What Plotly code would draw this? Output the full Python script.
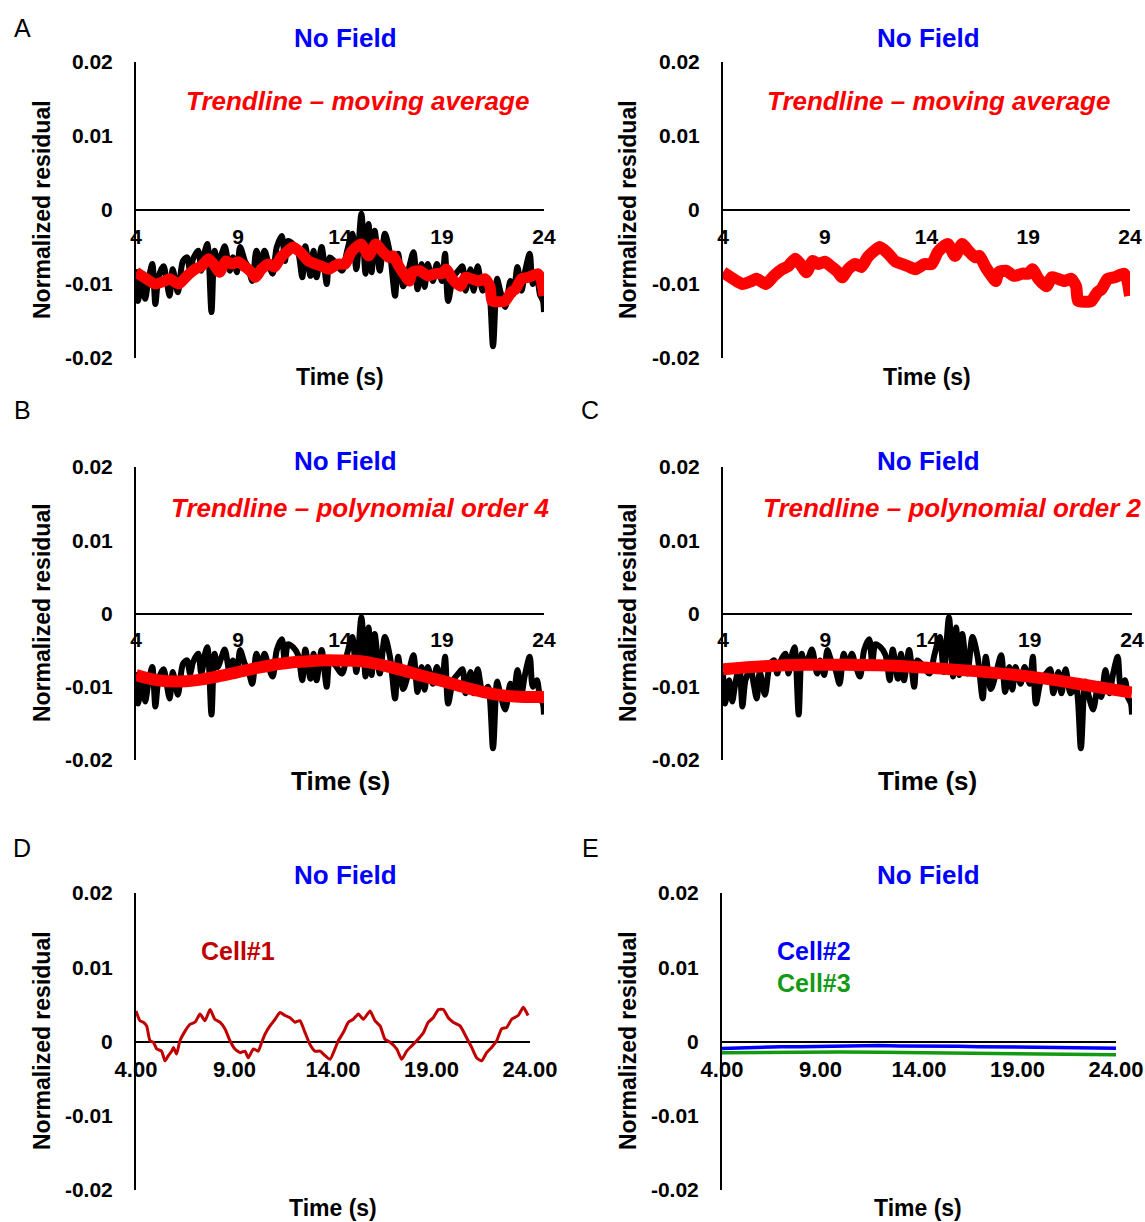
import plotly.graph_objects as go

W, H = 1145, 1222
FONT = "Liberation Sans, Arial, sans-serif"

# ---------------- data ----------------
time_tick_vals = [4, 9, 14, 19, 24]
time_tick_text_int = ["4", "9", "14", "19", "24"]
time_tick_text_dec = ["4.00", "9.00", "14.00", "19.00", "24.00"]
resid_tick_vals = [-0.02, -0.01, 0, 0.01, 0.02]
resid_tick_text = ["-0.02", "-0.01", "0", "0.01", "0.02"]

# raw normalized residual (units of 1e-3)
raw_t = [4.0, 4.1, 4.3, 4.45, 4.6, 4.8, 4.95, 5.1, 5.35, 5.5,
         5.65, 5.8, 6.05, 6.3, 6.5, 6.65, 6.8, 7.05, 7.2, 7.4,
         7.5, 7.7, 7.85, 8.0, 8.2, 8.35, 8.6, 8.75, 8.95, 9.1,
         9.35, 9.5, 9.7, 9.9, 10.1, 10.3, 10.5, 10.7, 10.9, 11.15,
         11.3, 11.45, 11.7, 11.95, 12.15, 12.3, 12.55, 12.7, 12.85, 13.1,
         13.35, 13.5, 13.75, 14.1, 14.35, 14.6, 14.8, 15.05, 15.25, 15.4,
         15.55, 15.7, 15.95, 16.2, 16.45, 16.7, 16.85, 17.1, 17.35, 17.6,
         17.8, 18.0, 18.15, 18.3, 18.55, 18.75, 19.0, 19.15, 19.3, 19.55,
         19.8, 20.0, 20.15, 20.4, 20.55, 20.75, 21.0, 21.25, 21.5, 21.7,
         21.85, 22.1, 22.35, 22.5, 22.7, 22.9, 23.05, 23.3, 23.45, 23.65,
         23.8, 23.95, 24.0]
raw_milli = [-8.0, -12.3, -9.1, -12.0, -9.6, -7.3, -12.7, -9.1, -7.6, -9.6,
             -11.6, -8.0, -11.1, -6.9, -6.4, -8.2, -6.6, -5.5, -8.2, -5.3,
             -4.6, -13.8, -5.5, -7.3, -5.9, -4.9, -8.2, -6.4, -8.4, -5.0,
             -7.0, -7.7, -9.6, -5.5, -7.3, -5.5, -7.3, -8.6, -5.0, -3.5,
             -6.9, -4.2, -4.6, -5.7, -9.1, -4.9, -8.9, -5.5, -9.1, -5.0,
             -10.0, -6.4, -7.0, -8.2, -5.5, -3.2, -8.0, -0.5, -8.6, -1.9,
             -8.4, -2.8, -8.2, -3.2, -5.9, -11.6, -5.9, -10.3, -8.2, -5.7,
             -10.7, -7.3, -10.4, -7.3, -9.6, -7.3, -9.6, -5.9, -12.3, -9.1,
             -8.2, -7.6, -10.9, -8.0, -10.9, -7.6, -10.9, -10.0, -18.4, -9.3,
             -10.9, -13.1, -9.6, -11.4, -7.7, -10.9, -8.6, -5.9, -10.0, -9.1,
             -11.4, -12.3, -13.8]

# moving-average trendline (units of 1e-3)
ma_t = [4.0, 4.5, 4.95, 5.4, 5.65, 6.1, 6.5, 6.9, 7.2, 7.55,
        7.8, 8.1, 8.4, 8.7, 9.0, 9.35, 9.65, 9.85, 10.15, 10.5,
        10.8, 11.1, 11.45, 11.7, 12.05, 12.45, 12.8, 13.1, 13.45, 13.9,
        14.25, 14.55, 14.8, 15.05, 15.4, 15.75, 16.05, 16.4, 16.6, 16.9,
        17.25, 17.4, 17.55, 17.9, 18.3, 18.7, 19.0, 19.2, 19.5, 19.9,
        20.15, 20.45, 20.8, 21.1, 21.35, 21.45, 21.8, 22.1, 22.4, 22.6,
        22.9, 23.25, 23.7, 23.85, 24.0]
ma_milli = [-8.4, -9.3, -10.0, -9.6, -9.3, -10.0, -8.9, -8.0, -7.6, -6.6,
            -7.3, -8.4, -6.9, -7.3, -7.0, -7.7, -8.4, -9.1, -8.0, -7.3,
            -7.7, -6.4, -5.5, -5.0, -5.7, -6.9, -7.3, -7.6, -8.0, -7.3,
            -7.3, -5.7, -5.0, -4.6, -6.2, -4.6, -5.5, -6.4, -6.2, -7.7,
            -9.1, -9.6, -8.4, -8.2, -8.9, -8.6, -8.6, -8.0, -9.3, -10.3,
            -9.1, -9.3, -9.6, -9.3, -10.3, -12.3, -12.4, -12.3, -11.1, -10.7,
            -9.3, -9.1, -8.6, -9.3, -11.6]

# polynomial order 4 trendline (units of 1e-3)
poly4_t = [4, 5, 6, 7, 8, 9, 10, 11, 12, 13, 14, 15, 16, 17, 18, 19, 20, 21, 22, 23, 24]
poly4_milli = [-8.4, -9.1, -9.3, -9.1, -8.6, -8.0, -7.4, -6.9, -6.6, -6.4, -6.4,
               -6.5, -7.0, -7.7, -8.5, -9.2, -10.0, -10.7, -11.2, -11.4, -11.4]

# polynomial order 2 trendline (units of 1e-3)
poly2_t = [4, 6, 8, 10, 12, 14, 16, 18, 20, 22, 24]
poly2_milli = [-7.6, -7.2, -7.0, -7.0, -7.1, -7.4, -7.8, -8.3, -9.0, -9.9, -10.8]

# Cell#1 (units of 1e-3)
cell1_t = [4.0, 4.2, 4.37, 4.54, 4.71, 4.88, 5.05, 5.3, 5.47, 5.64,
           5.81, 5.9, 6.06, 6.23, 6.49, 6.74, 7.0, 7.25, 7.5, 7.76,
           8.0, 8.26, 8.52, 8.77, 9.02, 9.28, 9.53, 9.7, 9.96, 10.2,
           10.38, 10.55, 10.8, 11.06, 11.31, 11.56, 11.82, 12.07, 12.32, 12.58,
           12.83, 13.09, 13.34, 13.6, 13.85, 14.1, 14.27, 14.52, 14.78, 15.03,
           15.29, 15.54, 15.88, 16.13, 16.39, 16.64, 16.9, 17.23, 17.49, 17.74,
           17.99, 18.25, 18.59, 18.84, 19.09, 19.35, 19.6, 19.85, 20.1, 20.45,
           20.78, 21.04, 21.29, 21.55, 21.8, 22.05, 22.31, 22.56, 22.82, 23.07,
           23.4, 23.66, 23.9]
cell1_milli = [4.1, 2.8, 2.6, 2.1, 0.1, -0.1, -1.0, -1.3, -2.6, -1.9,
               -1.3, -0.8, -1.7, 0.1, 1.4, 2.3, 2.6, 3.7, 2.8, 4.3,
               3.0, 2.6, 1.7, 0.1, -1.0, -1.5, -1.3, -2.2, -1.0, -1.3,
               -0.1, 1.0, 2.1, 3.0, 3.9, 3.5, 3.2, 2.6, 2.8, 1.2,
               -0.4, -1.3, -1.3, -1.9, -2.4, -1.0, 0.1, 1.2, 2.6, 3.0,
               3.7, 3.0, 4.1, 2.8, 2.1, 0.3, -0.1, -1.0, -2.4, -1.3,
               -0.6, 0.1, 1.2, 2.6, 3.2, 4.3, 4.3, 3.2, 2.6, 2.1,
               0.5, -0.8, -2.2, -2.6, -1.5, -0.8, 0.1, 1.7, 1.9, 3.0,
               3.5, 4.6, 3.5]

# Cell#2 and Cell#3 (units of 1e-3)
cell2_t = [4, 5, 6, 7, 8, 9, 10, 11, 12, 13, 14, 15, 16, 17, 18, 19, 20, 21, 22, 23, 24]
cell2_milli = [-0.95, -0.85, -0.8, -0.7, -0.7, -0.65, -0.6, -0.6, -0.55, -0.6, -0.6,
               -0.55, -0.65, -0.7, -0.7, -0.75, -0.75, -0.8, -0.85, -0.85, -0.9]
cell3_t = [4, 6, 8, 10, 12, 14, 16, 18, 20, 22, 24]
cell3_milli = [-1.5, -1.45, -1.4, -1.4, -1.45, -1.5, -1.6, -1.65, -1.7, -1.75, -1.8]


def si(vals):
    return [v / 1000.0 for v in vals]


# ---------------- layout geometry (pixels) ----------------
# (left, right, top, bottom) of each plot area
boxes = [
    (136, 544, 62, 358),    # A left
    (723, 1130, 62, 358),   # A right
    (136, 544, 467, 760),   # B
    (723, 1132, 467, 760),  # C
    (136, 530, 893, 1190),  # D
    (722, 1116, 893, 1190), # E
]
tick_texts = [time_tick_text_int] * 4 + [time_tick_text_dec] * 2
tick_sizes = [21, 21, 21, 21, 22, 22]

fig = go.Figure()
layout = dict(template="none", width=W, height=H,
              margin=dict(l=0, r=0, t=0, b=0, autoexpand=False),
              paper_bgcolor="white", plot_bgcolor="white", showlegend=False,
              font=dict(family=FONT, color="black"))

for i, (l, r, t, b) in enumerate(boxes):
    n = "" if i == 0 else str(i + 1)
    layout["xaxis" + n] = dict(
        domain=[l / W, r / W], range=[4, 24], anchor="free",
        position=1 - (t + b) / 2 / H, automargin=False,
        showline=True, linecolor="black", linewidth=1.5,
        showgrid=False, zeroline=False, ticks="",
        tickvals=time_tick_vals, ticktext=tick_texts[i],
        tickfont=dict(family=FONT, size=tick_sizes[i], color="black", weight="bold"),
        ticklabelstandoff=8, layer="below traces", fixedrange=True)
    layout["yaxis" + n] = dict(
        domain=[1 - b / H, 1 - t / H], range=[-0.02, 0.02], anchor="x" + n,
        automargin=False,
        showline=True, linecolor="black", linewidth=2,
        showgrid=False, zeroline=False, ticks="",
        tickvals=resid_tick_vals, ticktext=resid_tick_text,
        tickfont=dict(family=FONT, size=21, color="black", weight="bold"),
        ticklabelstandoff=17, layer="below traces", fixedrange=True)


def add_line(i, xs, ys, color, width, shape="linear", smoothing=1.0):
    n = "" if i == 0 else str(i + 1)
    line = dict(color=color, width=width, shape=shape)
    if shape == "spline":
        line["smoothing"] = smoothing
    fig.add_trace(go.Scatter(x=xs, y=si(ys), mode="lines", line=line,
                             xaxis="x" + n, yaxis="y" + n, hoverinfo="skip"))


RED = "#FF0000"
add_line(0, raw_t, raw_milli, "black", 6, "spline", 0.8)
add_line(0, ma_t, ma_milli, RED, 11, "spline", 0.6)
add_line(1, ma_t, ma_milli, RED, 12, "spline", 0.6)
add_line(2, raw_t, raw_milli, "black", 6, "spline", 0.8)
add_line(2, poly4_t, poly4_milli, RED, 12, "spline")
add_line(3, raw_t, raw_milli, "black", 6, "spline", 0.8)
add_line(3, poly2_t, poly2_milli, RED, 12, "spline")
add_line(4, cell1_t, cell1_milli, "#C00000", 3, "spline", 0.5)
add_line(5, cell2_t, cell2_milli, "#0000FF", 3.5)
add_line(5, cell3_t, cell3_milli, "#129A12", 3.5)

anns = []


def txt(s, px, py, size, color="black", bold=True, italic=False, angle=0):
    anns.append(dict(text=s, x=px / W, y=1 - py / H, xref="paper", yref="paper",
                     xanchor="center", yanchor="middle", showarrow=False,
                     textangle=angle,
                     font=dict(family=FONT, size=size, color=color,
                               weight="bold" if bold else "normal",
                               style="italic" if italic else "normal")))


BLUE = "#0000FF"
# panel letters
for s, px, py in [("A", 22, 28), ("B", 22, 410), ("C", 590, 410), ("D", 22, 848), ("E", 590, 848)]:
    txt(s, px, py, 25, bold=False)
# No Field titles
for px, py in [(345, 38), (928, 38), (345, 461), (928, 461), (345, 875), (928, 875)]:
    txt("No Field", px, py, 26, BLUE)
# trendline labels
txt("Trendline – moving average", 357, 101, 26, RED, italic=True)
txt("Trendline – moving average", 938, 101, 26, RED, italic=True)
txt("Trendline – polynomial order 4", 360, 508, 26, RED, italic=True)
txt("Trendline – polynomial order 2", 952, 508, 26, RED, italic=True)
# cell labels
txt("Cell#1", 238, 951, 25, "#C00000")
txt("Cell#2", 814, 951, 25, BLUE)
txt("Cell#3", 814, 983, 25, "#129A12")
# axis titles
for px, py in [(42, 210), (628, 210), (42, 613), (628, 613), (42, 1041), (628, 1041)]:
    txt("Normalized residual", px, py, 23, angle=-90)
for px, py, sz in [(340, 377, 23), (927, 377, 23), (340, 781, 26), (927, 781, 26),
                   (333, 1208, 23), (918, 1208, 23)]:
    txt("Time (s)", px, py, sz)

layout["annotations"] = anns
fig.update_layout(**layout)
fig.write_html("out.html")
